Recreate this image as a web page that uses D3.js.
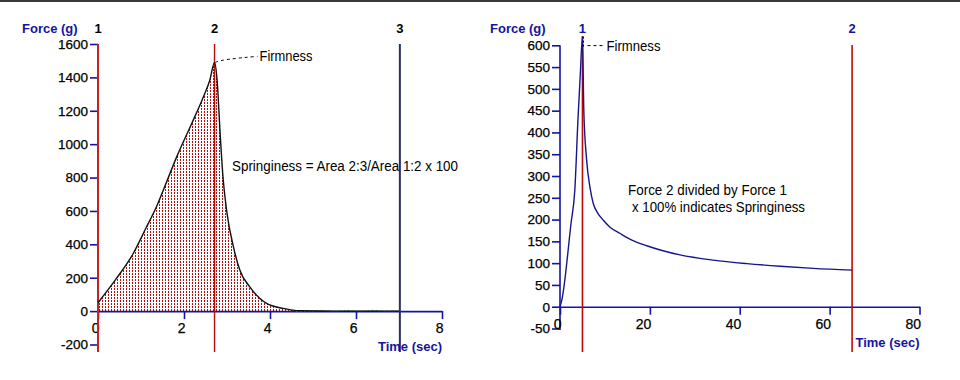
<!DOCTYPE html>
<html>
<head>
<meta charset="utf-8">
<script src="https://cdn.jsdelivr.net/npm/d3@7"></script>
<style>
  body { margin: 0; background: #fff; }
  svg { display: block; font-family: "Liberation Sans", Arial, sans-serif; }
  .note { font-family: "Liberation Sans", Arial, sans-serif; font-size: 14px; fill: #000; }
</style>
</head>
<body>
<svg id="chart" width="960" height="380"></svg>
<script>
// left panel: compression curve (time in sec, force in g)
var leftTime  = [0, 0.43, 0.82, 1.13, 1.36, 1.52, 1.83, 2.18, 2.45, 2.60, 2.71, 2.77, 2.84, 2.90, 2.99, 3.15, 3.30, 3.53, 3.92, 4.31, 4.70, 5.5, 6.3, 7.0];
var leftForce = [50, 196, 345, 505, 625, 725, 924, 1124, 1283, 1383, 1490, 1383, 1065, 826, 605, 385, 245, 145, 46, 16, 2, 0, 0, 0];
// small noise around zero after the probe leaves the sample
var noiseTime  = [4.6, 4.9, 5.2, 5.5, 5.8, 6.1, 6.4, 6.7, 7.0];
var noiseForce = [0, -4, 3, -3, 4, -2, 5, -3, 2];
var leftMarkerTimes  = [0, 2.71, 7.02];
var leftMarkerLabels = ["1", "2", "3"];
var leftXTicks = [0, 2, 4, 6, 8];
var leftYTicks = [-200, 0, 200, 400, 600, 800, 1000, 1200, 1400, 1600];

// right panel: relaxation curve
var rightTime  = [0, 0.4, 2.45, 3.3, 4.0, 4.5, 5.0, 5.3, 5.9, 6.7, 7.4, 8.4, 9.6, 11.2, 13.4, 16.0, 19.3, 26.7, 34.1, 41.6, 49, 56.4, 65];
var rightForce = [0, 15, 191, 268, 430, 530, 620, 450, 340, 272, 237, 215, 199, 182, 168, 153, 140, 119, 107, 99, 93, 88, 84];
var rightMarkerTimes  = [5, 65];
var rightMarkerLabels = ["1", "2"];
var rightXTicks = [0, 20, 40, 60, 80];
var rightYTicks = [-50, 0, 50, 100, 150, 200, 250, 300, 350, 400, 450, 500, 550, 600];

var axisBlue = "#1414a0";
var svg = d3.select("#chart");

// top border
svg.append("rect").attr("x", 0).attr("y", 0).attr("width", 960).attr("height", 2).attr("fill", "#3a3a3a");

// dotted red fill pattern
var defs = svg.append("defs");
var pat = defs.append("pattern").attr("id", "dots")
  .attr("patternUnits", "userSpaceOnUse").attr("width", 3).attr("height", 3);
pat.append("rect").attr("x", 0).attr("y", 0).attr("width", 1).attr("height", 2)
  .attr("fill", "#b01010").attr("shape-rendering", "crispEdges");

function drawPanel(o) {
  var x = d3.scaleLinear().domain(o.xDomain).range(o.xRange);
  var y = d3.scaleLinear().domain(o.yDomain).range(o.yRange);
  var g = svg.append("g");
  var data = o.time.map(function(t, i) { return {t: t, f: o.force[i]}; });

  if (o.fill) {
    var area = d3.area().x(function(d) { return x(d.t); }).y0(y(0)).y1(function(d) { return y(d.f); })
      .curve(o.curve);
    g.append("path").datum(data).attr("d", area).attr("fill", "url(#dots)");
  }

  // y axis
  var yAxis = d3.axisLeft(y).tickValues(o.yTicks).tickSize(8).tickPadding(2).tickSizeOuter(0)
    .tickFormat(function(d) { return String(d); });
  var ya = g.append("g").attr("transform", "translate(" + x(0) + ",0)").call(yAxis);
  ya.select(".domain").remove();
  ya.selectAll(".tick line").attr("stroke", axisBlue).attr("stroke-width", 1.6);
  ya.selectAll(".tick text").attr("font-size", 13.5).attr("fill", "#000")
    .attr("stroke", "#000").attr("stroke-width", 0.25);
  g.append("line").attr("x1", x(0)).attr("x2", x(0))
    .attr("y1", y(o.yDomain[1])).attr("y2", o.yAxisEnd)
    .attr("stroke", axisBlue).attr("stroke-width", 1.6);

  // x axis
  var xAxis = d3.axisBottom(x).tickValues(o.xTicks).tickSize(8).tickPadding(4).tickSizeOuter(0)
    .tickFormat(function(d) { return String(d); });
  var xa = g.append("g").attr("transform", "translate(0," + y(0) + ")").call(xAxis);
  xa.select(".domain").attr("stroke", axisBlue).attr("stroke-width", 1.6);
  xa.selectAll(".tick line").attr("stroke", axisBlue).attr("stroke-width", 1.6);
  xa.selectAll(".tick text").attr("font-size", 14).attr("fill", "#000")
    .attr("stroke", "#000").attr("stroke-width", 0.25)
    .attr("text-anchor", "end").attr("x", 1);

  if (o.noise) {
    var nd = o.noise.t.map(function(t, i) { return {t: t, f: o.noise.f[i]}; });
    g.append("path").datum(nd)
      .attr("d", d3.line().x(function(d) { return x(d.t); }).y(function(d) { return y(d.f) ; }))
      .attr("fill", "none").attr("stroke", "#2fb02f").attr("stroke-width", 1).attr("stroke-dasharray", "2,2");
  }

  // marker lines
  o.markers.forEach(function(t, i) {
    g.append("line").attr("x1", x(t)).attr("x2", x(t))
      .attr("y1", o.markerTop[i]).attr("y2", 352)
      .attr("stroke", o.markerColors[i]).attr("stroke-width", o.markerWidths[i]);
    g.append("text").attr("x", x(t)).attr("y", 33).attr("text-anchor", "middle")
      .attr("font-size", 13).attr("font-weight", "bold").attr("fill", o.markerLabelColor)
      .text(o.markerLabels[i]);
  });

  // curve
  var line = d3.line().x(function(d) { return x(d.t); }).y(function(d) { return y(d.f); })
    .curve(o.curve);
  g.append("path").datum(data).attr("d", line)
    .attr("fill", "none").attr("stroke", o.curveColor).attr("stroke-width", 1.4);

  // axis titles
  g.append("text").attr("x", o.forceX).attr("y", 33).attr("font-size", 13).attr("font-weight", "bold")
    .attr("fill", axisBlue).text("Force (g)");
  g.append("text").attr("x", x(o.xDomain[1])).attr("y", o.timeY).attr("text-anchor", "end")
    .attr("font-size", 13).attr("font-weight", "bold").attr("fill", axisBlue).text("Time (sec)");

  return {x: x, y: y, g: g};
}

var L = drawPanel({
  time: leftTime, force: leftForce, fill: true, curve: d3.curveMonotoneX,
  noise: {t: noiseTime, f: noiseForce},
  xDomain: [0, 8], xRange: [98, 442],
  yDomain: [-200, 1600], yRange: [344.5, 44],
  xTicks: leftXTicks, yTicks: leftYTicks, yAxisEnd: 352,
  markers: leftMarkerTimes, markerLabels: leftMarkerLabels,
  markerColors: ["#c8202a", "#b80c0c", "#2c2c6c"], markerWidths: [2, 1.4, 2],
  markerTop: [44, 44, 44], markerLabelColor: "#000",
  curveColor: "#111", forceX: 22, timeY: 351
});

var R = drawPanel({
  time: rightTime, force: rightForce, fill: false, curve: d3.curveMonotoneX,
  xDomain: [0, 80], xRange: [560, 919.5],
  yDomain: [-50, 600], yRange: [328.5, 45.3],
  xTicks: rightXTicks, yTicks: rightYTicks, yAxisEnd: 330,
  markers: rightMarkerTimes, markerLabels: rightMarkerLabels,
  markerColors: ["#c00a0a", "#c00a0a"], markerWidths: [1.6, 1.6],
  markerTop: [36, 45], markerLabelColor: axisBlue,
  curveColor: "#16168a", forceX: 490, timeY: 347
});

// annotations: left
var li = leftForce.indexOf(d3.max(leftForce));
var lpx = L.x(leftTime[li]), lpy = L.y(leftForce[li]);
svg.append("path")
  .attr("d", "M" + (lpx + 1) + "," + lpy + " Q" + (lpx + 6) + "," + (lpy - 3) + " " + (lpx + 43) + "," + (lpy - 6))
  .attr("fill", "none").attr("stroke", "#000").attr("stroke-width", 1).attr("stroke-dasharray", "3,3");
svg.append("text").attr("class", "note").attr("x", lpx + 45).attr("y", lpy - 1)
  .attr("textLength", 53).attr("lengthAdjust", "spacingAndGlyphs").text("Firmness");
svg.append("text").attr("class", "note").attr("x", 232).attr("y", 171)
  .attr("textLength", 226).attr("lengthAdjust", "spacingAndGlyphs").text("Springiness = Area 2:3/Area 1:2 x 100");

// annotations: right
var ri = rightForce.indexOf(d3.max(rightForce));
var rpx = R.x(rightTime[ri]), rpy = R.y(rightForce[ri]);
svg.append("line").attr("x1", rpx + 1).attr("x2", rpx + 1).attr("y1", rpy).attr("y2", rpy + 11)
  .attr("stroke", "#000").attr("stroke-width", 1).attr("stroke-dasharray", "2,2");
svg.append("line").attr("x1", rpx + 5).attr("x2", rpx + 23).attr("y1", rpy + 9).attr("y2", rpy + 9)
  .attr("stroke", "#000").attr("stroke-width", 1).attr("stroke-dasharray", "3,3");
svg.append("text").attr("class", "note").attr("x", rpx + 24).attr("y", rpy + 14)
  .attr("textLength", 54).attr("lengthAdjust", "spacingAndGlyphs").text("Firmness");
svg.append("text").attr("class", "note").attr("x", 628).attr("y", 195)
  .attr("textLength", 159).attr("lengthAdjust", "spacingAndGlyphs").text("Force 2 divided by Force 1");
svg.append("text").attr("class", "note").attr("x", 632).attr("y", 212)
  .attr("textLength", 173).attr("lengthAdjust", "spacingAndGlyphs").text("x 100% indicates Springiness");
</script>
</body>
</html>
